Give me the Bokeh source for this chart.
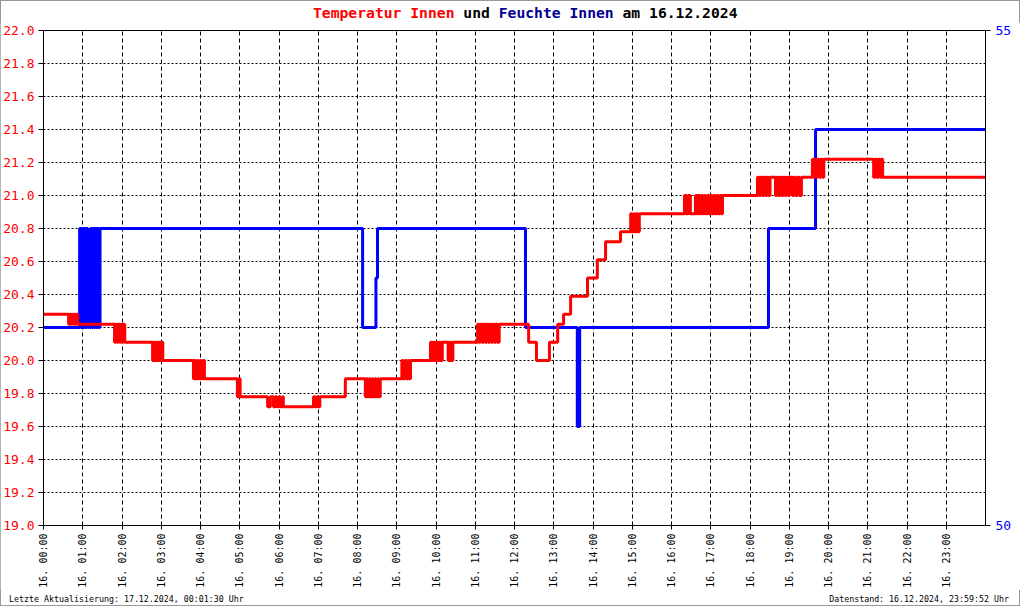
import math
from bokeh.plotting import figure
from bokeh.layouts import column
from bokeh.models import (LinearAxis, Range1d, FixedTicker, NumeralTickFormatter, Div)
from bokeh.embed import file_html
from bokeh.resources import INLINE

# ---------------- data ----------------
title_parts = [("Temperatur Innen", "#FF0000"), ("und", "#000000"),
               ("Feuchte Innen", "#000090"), ("am 16.12.2024", "#000000")]
footer_left = "Letzte Aktualisierung: 17.12.2024, 00:01:30 Uhr"
footer_right = "Datenstand: 16.12.2024, 23:59:52 Uhr"

hour_ticks = list(range(24))
hour_labels = ["16. 00:00", "16. 01:00", "16. 02:00", "16. 03:00", "16. 04:00", "16. 05:00",
               "16. 06:00", "16. 07:00", "16. 08:00", "16. 09:00", "16. 10:00", "16. 11:00",
               "16. 12:00", "16. 13:00", "16. 14:00", "16. 15:00", "16. 16:00", "16. 17:00",
               "16. 18:00", "16. 19:00", "16. 20:00", "16. 21:00", "16. 22:00", "16. 23:00"]
temp_ticks = [19.0, 19.2, 19.4, 19.6, 19.8, 20.0, 20.2, 20.4, 20.6, 20.8,
              21.0, 21.2, 21.4, 21.6, 21.8, 22.0]
hum_ticks = [50, 55]

# Temperatur Innen (step after), hours / degC
temp_h = [0.00,
          0.64, 0.67, 0.70, 0.72, 0.75, 0.78, 0.81, 0.84, 0.87,
          1.81, 1.84, 1.87, 1.90, 1.94, 1.97, 2.00, 2.03, 2.07,
          2.78, 2.81, 2.84, 2.88, 2.91, 2.94, 2.98, 3.01, 3.04,
          3.82, 3.85, 3.88, 3.92, 3.95, 3.99, 4.02, 4.06, 4.10,
          4.94, 4.97, 5.01, 5.04,
          5.71, 5.78, 5.86, 5.90, 5.94, 5.99, 6.04, 6.09, 6.11,
          6.88, 6.92, 6.96, 7.00, 7.04,
          7.69,
          8.20, 8.23, 8.26, 8.30, 8.33, 8.37, 8.40, 8.44, 8.47, 8.51, 8.54, 8.58,
          9.13, 9.16, 9.20, 9.24, 9.28, 9.31, 9.35,
          9.86, 9.89, 9.92, 9.96, 10.00, 10.04, 10.08, 10.12, 10.16,
          10.31, 10.35, 10.39, 10.43,
          11.06, 11.09, 11.13, 11.17, 11.21, 11.25, 11.29, 11.33, 11.37, 11.41,
          11.45, 11.49, 11.53, 11.57, 11.61,
          12.36, 12.56, 12.89, 13.10, 13.25, 13.43, 13.86, 14.11, 14.32, 14.70,
          14.96, 14.99, 15.03, 15.06, 15.10, 15.14, 15.18,
          16.33, 16.38, 16.42, 16.48,
          16.61, 16.65, 16.68, 16.72, 16.76, 16.80, 16.84, 16.87, 16.91, 16.95,
          16.99, 17.03, 17.07, 17.11, 17.15, 17.19, 17.23, 17.27, 17.30,
          18.19, 18.23, 18.27, 18.31, 18.35, 18.39, 18.43, 18.47, 18.51,
          18.65, 18.69, 18.73, 18.77, 18.81, 18.85, 18.89, 18.93, 18.97, 19.01,
          19.08, 19.12, 19.16, 19.21, 19.26, 19.31,
          19.59, 19.62, 19.65, 19.69, 19.72, 19.76, 19.80, 19.84, 19.88,
          21.15, 21.19, 21.23, 21.27, 21.31, 21.35, 21.38,
          24.00]
temp_v = [20.28,
          20.22, 20.28, 20.22, 20.28, 20.22, 20.28, 20.22, 20.28, 20.22,
          20.11, 20.22, 20.11, 20.22, 20.11, 20.22, 20.11, 20.22, 20.11,
          20.00, 20.11, 20.00, 20.11, 20.00, 20.11, 20.00, 20.11, 20.00,
          19.89, 20.00, 19.89, 20.00, 19.89, 20.00, 19.89, 20.00, 19.89,
          19.78, 19.89, 19.78, 19.78,
          19.72, 19.78, 19.72, 19.78, 19.72, 19.78, 19.72, 19.78, 19.72,
          19.78, 19.72, 19.78, 19.72, 19.78,
          19.89,
          19.78, 19.89, 19.78, 19.89, 19.78, 19.89, 19.78, 19.89, 19.78, 19.89, 19.78, 19.89,
          20.00, 19.89, 20.00, 19.89, 20.00, 19.89, 20.00,
          20.11, 20.00, 20.11, 20.00, 20.11, 20.00, 20.11, 20.00, 20.11,
          20.00, 20.11, 20.00, 20.11,
          20.22, 20.11, 20.22, 20.11, 20.22, 20.11, 20.22, 20.11, 20.22, 20.11,
          20.22, 20.11, 20.22, 20.11, 20.22,
          20.11, 20.00, 20.11, 20.22, 20.28, 20.39, 20.50, 20.61, 20.72, 20.78,
          20.89, 20.78, 20.89, 20.78, 20.89, 20.78, 20.89,
          21.00, 20.89, 21.00, 20.89,
          21.00, 20.89, 21.00, 20.89, 21.00, 20.89, 21.00, 20.89, 21.00, 20.89,
          21.00, 20.89, 21.00, 20.89, 21.00, 20.89, 21.00, 20.89, 21.00,
          21.11, 21.00, 21.11, 21.00, 21.11, 21.00, 21.11, 21.00, 21.11,
          21.00, 21.11, 21.00, 21.11, 21.00, 21.11, 21.00, 21.11, 21.00, 21.11,
          21.00, 21.11, 21.00, 21.11, 21.00, 21.11,
          21.22, 21.11, 21.22, 21.11, 21.22, 21.11, 21.22, 21.11, 21.22,
          21.11, 21.22, 21.11, 21.22, 21.11, 21.22, 21.11,
          21.11]

# Feuchte Innen (step after), hours / %
hum_h = [0.00,
         0.92, 0.95, 0.98, 1.01, 1.04, 1.07, 1.10, 1.13, 1.15, 1.18,
         1.20, 1.23, 1.26, 1.29, 1.32, 1.35, 1.38, 1.41, 1.44,
         8.13, 8.47, 8.51, 12.28, 13.60, 13.66, 18.47, 19.67, 24.00]
hum_v = [52,
         53, 52, 53, 52, 53, 52, 53, 52, 52.5, 52,
         53, 52, 53, 52, 53, 52, 53, 52, 53,
         52, 52.5, 53, 52, 51, 52, 53, 54, 54]

# ---------------- styling ----------------
FONT = "DejaVu Sans Mono"
RED = "#FF0000"
BLUE = "#0000FF"

W = 1020
TITLE_H = 22
FOOT_H = 16
FIG_H = 606 - TITLE_H - FOOT_H

p = figure(width=W, height=FIG_H, output_backend="svg", toolbar_location=None,
           title=None, x_range=Range1d(0, 24), y_range=Range1d(19, 22),
           min_border_left=42, min_border_right=35, min_border_top=8, min_border_bottom=65,
           background_fill_color="white", border_fill_color="white")
p.extra_y_ranges = {"hum": Range1d(50, 55)}

p.outline_line_color = "black"
p.outline_line_width = 1
p.outline_line_alpha = 1

# x axis
xa = p.xaxis[0]
xa.ticker = FixedTicker(ticks=hour_ticks)
xa.major_label_overrides = {t: l for t, l in zip(hour_ticks, hour_labels)}
xa.major_label_orientation = math.pi / 2
xa.major_label_text_font = FONT
xa.major_label_text_font_size = "10px"
xa.major_label_text_color = "black"
xa.major_label_standoff = 4
xa.major_tick_out = 4
xa.major_tick_in = 0
xa.minor_tick_out = 0
xa.minor_tick_in = 0
xa.axis_line_color = "black"
xa.major_tick_line_color = "black"

# left axis
ya = p.yaxis[0]
ya.ticker = FixedTicker(ticks=temp_ticks)
ya.formatter = NumeralTickFormatter(format="0.0")
ya.major_label_text_font = FONT
ya.major_label_text_font_size = "13px"
ya.major_label_text_color = RED
ya.major_label_standoff = 4
ya.major_tick_out = 5
ya.major_tick_in = 0
ya.minor_tick_out = 0
ya.minor_tick_in = 0
ya.axis_line_color = "black"

# right axis
ra = LinearAxis(y_range_name="hum", ticker=FixedTicker(ticks=hum_ticks))
ra.major_label_text_font = FONT
ra.major_label_text_font_size = "13px"
ra.major_label_text_color = BLUE
ra.major_label_standoff = 5
ra.major_tick_out = 5
ra.major_tick_in = 0
ra.minor_tick_out = 0
ra.minor_tick_in = 0
ra.axis_line_color = "black"
p.add_layout(ra, "right")

# grids
p.xgrid.grid_line_color = "black"
p.xgrid.grid_line_dash = "4 3"
p.xgrid.grid_line_width = 1
p.ygrid.ticker = FixedTicker(ticks=temp_ticks)
p.ygrid.grid_line_color = "black"
p.ygrid.grid_line_dash = "2 2"
p.ygrid.grid_line_width = 1

# series
p.step(hum_h, hum_v, mode="after", y_range_name="hum", line_color=BLUE, line_width=3)
p.step(temp_h, temp_v, mode="after", line_color=RED, line_width=3)

# title and footer as text blocks
spans = " ".join(f'<span style="color:{c}">{t}</span>' for t, c in title_parts)
title_div = Div(
    text=(f'<div style="font-family:\'{FONT}\';font-weight:bold;font-size:14.7px;'
          f'line-height:20px;padding-top:3px;padding-left:313px;white-space:pre;">{spans}</div>'),
    width=W, height=TITLE_H, margin=(0, 0, 0, 0))
foot_div = Div(
    text=(f'<div style="display:flex;justify-content:space-between;width:{W}px;'
          f'box-sizing:border-box;padding-left:9px;padding-right:11px;'
          f'font-family:\'{FONT}\';font-size:8.3px;line-height:16px;white-space:pre;color:#000;">'
          f'<span>{footer_left}</span><span>{footer_right}</span></div>'),
    width=W, height=FOOT_H, margin=(0, 0, 0, 0))
p.margin = (0, 0, 0, 0)

layout = column(title_div, p, foot_div, spacing=0, margin=(0, 0, 0, 0),
                styles={"outline": "1px solid #999999", "outline-offset": "-1px"})

open("out.html", "w").write(file_html(layout, INLINE))
